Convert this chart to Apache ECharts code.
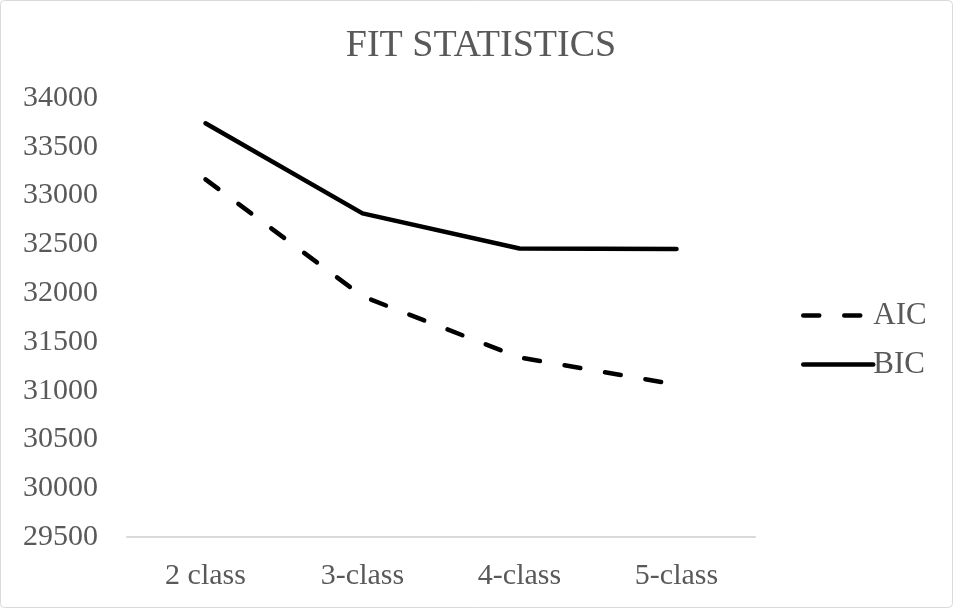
<!DOCTYPE html>
<html><head><meta charset="utf-8">
<script src="https://cdn.jsdelivr.net/npm/echarts@6/dist/echarts.min.js"></script>
<style>html,body{margin:0;padding:0;background:#fff}#c{width:953px;height:608px}</style>
</head><body><div id="c"></div>
<script>
const categories = ['2 class', '3-class', '4-class', '5-class'];
const aicValues = [33166, 31967, 31340, 31062];
const bicValues = [33741, 32817, 32457, 32452];
const yMin = 29500, yMax = 34000, yStep = 500;

const font = '"Liberation Serif", "Times New Roman", serif';
const chart = echarts.init(document.getElementById('c'));
chart.setOption({
  animation: false,
  backgroundColor: '#fff',
  title: {
    text: 'FIT STATISTICS', left: 476, top: 22, textAlign: 'center',
    textStyle: { fontFamily: font, fontSize: 38, fontWeight: 'normal', color: '#595959' }
  },
  graphic: [{ type: 'rect', shape: { x: 0.5, y: 0.5, width: 952, height: 607, r: 4 },
    style: { fill: 'none', stroke: '#d9d9d9', lineWidth: 1 }, silent: true }],
  grid: { left: 127, right: 198, top: 98, bottom: 71, containLabel: false },
  legend: {
    orient: 'vertical', left: 796, top: 295, itemWidth: 70, itemHeight: 20, itemGap: 18,
    itemStyle: { opacity: 0 },
    lineStyle: { width: 4.5, cap: 'round' },
    textStyle: { fontFamily: font, fontSize: 31, color: '#595959', padding: [0, 0, 0, -5] },
    data: ['AIC', 'BIC']
  },
  xAxis: {
    type: 'category', data: categories, boundaryGap: true,
    axisLine: { lineStyle: { color: '#d9d9d9', width: 2 } },
    axisTick: { show: false },
    axisLabel: { fontFamily: font, fontSize: 30, color: '#595959', margin: 24 }
  },
  yAxis: {
    type: 'value', min: yMin, max: yMax, interval: yStep,
    axisLine: { show: false }, axisTick: { show: false }, splitLine: { show: false },
    axisLabel: { fontFamily: font, fontSize: 30, color: '#595959', margin: 29, formatter: v => String(v) }
  },
  series: [
    { name: 'AIC', type: 'line', data: aicValues, symbol: 'none',
      lineStyle: { color: '#000', width: 4.5, type: [16, 25], cap: 'round' }, itemStyle: { color: '#000' } },
    { name: 'BIC', type: 'line', data: bicValues, symbol: 'none',
      lineStyle: { color: '#000', width: 4.5, cap: 'round' }, itemStyle: { color: '#000' } }
  ]
});
</script></body></html>
